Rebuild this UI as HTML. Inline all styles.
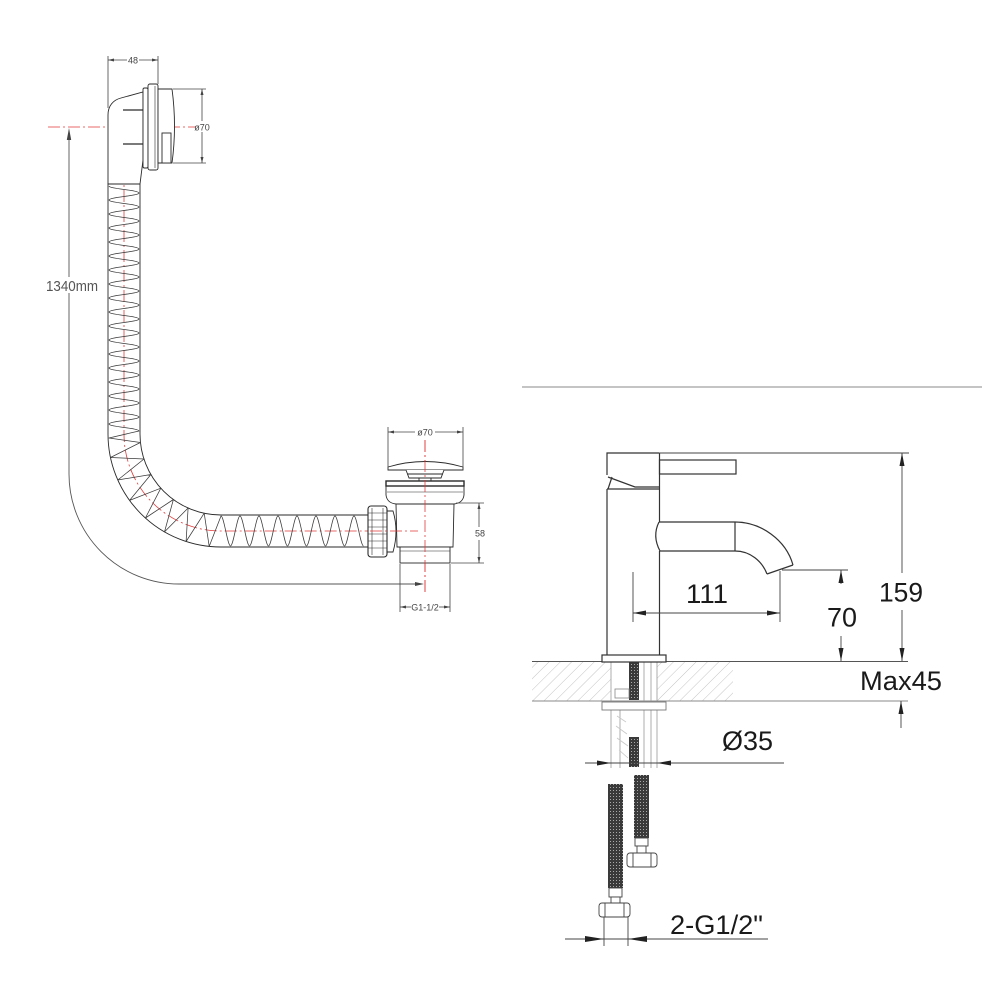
<!DOCTYPE html>
<html><head><meta charset="utf-8">
<style>
html,body{margin:0;padding:0;background:#fff;}
svg{display:block;}
</style></head><body>
<svg width="1000" height="1000" viewBox="0 0 1000 1000" xmlns="http://www.w3.org/2000/svg">
<defs>
<pattern id="hatch" width="8" height="8" patternUnits="userSpaceOnUse" patternTransform="rotate(45)">
<line x1="0" y1="0" x2="0" y2="8" stroke="#c4c4c4" stroke-width="1"/>
</pattern>
<pattern id="braid" width="3" height="3" patternUnits="userSpaceOnUse">
<rect width="3" height="3" fill="#3a3a3a"/>
<rect x="1" y="1" width="1" height="1" fill="#aaa"/>
</pattern>
</defs>

<!-- ============ LEFT DRAWING (bath waste) ============ -->
<g fill="none" stroke="#e23a3a" stroke-width="0.8" stroke-dasharray="12 3 2 3">
  <line x1="48" y1="127" x2="196" y2="127"/>
  <path d="M124,150 L124,434 A97,97 0 0 0 221,531 L418,531"/>
  <line x1="425" y1="440" x2="425" y2="594"/>
</g>

<!-- 1340mm dimension -->
<g fill="none" stroke="#555" stroke-width="0.9">
  <path d="M69,136 L69,474 A110,110 0 0 0 179,584 L421,584"/>
</g>
<polygon points="69,128 66.8,140 71.2,140" fill="#444"/>
<polygon points="424,584 415,582 415,586" fill="#444"/>
<rect x="44" y="277" width="56" height="16" fill="#fff"/>
<text x="46" y="291" font-family="Liberation Sans, Arial, sans-serif" font-size="15" fill="#555" textLength="52" lengthAdjust="spacingAndGlyphs">1340mm</text>

<!-- hose -->
<g fill="none" stroke="#2a2a2a" stroke-width="0.9">
  <path d="M108,183 L108,434 A113,113 0 0 0 221,547 L368,547"/>
  <path d="M140,184 L140,434 A81,81 0 0 0 221,515 L368,515"/>
</g>
<path fill="none" stroke="#3a3a3a" stroke-width="0.75" stroke-linejoin="round" d="M109,186 C109,189 139,190 139,193 C139,196 109,197 109,200 C109,203 139,204 139,207 C139,210 109,211 109,214 C109,217 139,218 139,221 C139,224 109,225 109,228 C109,231 139,232 139,235 C139,238 109,239 109,242 C109,245 139,246 139,249 C139,252 109,253 109,256 C109,259 139,260 139,263 C139,266 109,267 109,270 C109,273 139,274 139,277 C139,280 109,281 109,284 C109,287 139,288 139,291 C139,294 109,295 109,298 C109,301 139,302 139,305 C139,308 109,309 109,312 C109,315 139,316 139,319 C139,322 109,323 109,326 C109,329 139,330 139,333 C139,336 109,337 109,340 C109,343 139,344 139,347 C139,350 109,351 109,354 C109,357 139,358 139,361 C139,364 109,365 109,368 C109,371 139,372 139,375 C139,378 109,379 109,382 C109,385 139,386 139,389 C139,392 109,393 109,396 C109,399 139,400 139,403 C139,406 109,407 109,410 C109,413 139,414 139,417 C139,420 109,421 109,424 C109,427 139,428 139,431 L109,438 L140.4,442.5 L110.5,457.5 L144,459 L117.8,480 L150.9,474.5 L129.6,500.4 L160.8,488.2 L145.4,518 L173.4,499.5 L164.5,531.9 L188.1,508 L186.1,541.5 L204.2,513.2 L209.2,546.4 L221,516 C224,516 227.5,546 230.5,546 C233.5,546 237,516 240,516 C243,516 246.5,546 249.5,546 C252.5,546 256,516 259,516 C262,516 265.5,546 268.5,546 C271.5,546 275,516 278,516 C281,516 284.5,546 287.5,546 C290.5,546 294,516 297,516 C300,516 303.5,546 306.5,546 C309.5,546 313,516 316,516 C319,516 322.5,546 325.5,546 C328.5,546 332,516 335,516 C338,516 341.5,546 344.5,546 C347.5,546 351,516 354,516 C357,516 360.5,546 363.5,546"/>

<!-- overflow head -->
<g fill="#fff" stroke="#2a2a2a" stroke-width="0.9">
  <path d="M108,184 L108,115 C108,106 113,100 121,98 L143,92 L143,160 L140,184 Z"/>
  <rect x="143" y="88" width="5" height="80" rx="1.5"/>
  <rect x="148" y="84" width="10" height="86" rx="2"/>
  <path d="M158,89 L172,89 Q177,126 172,163 L158,163 Z"/>
  <rect x="162" y="133" width="9" height="30"/>
  <line x1="123" y1="110" x2="143" y2="110" stroke-width="1.3"/>
  <line x1="123" y1="144" x2="143" y2="144" stroke-width="1.3"/>
  <line x1="155" y1="86" x2="155" y2="168" stroke-width="0.6"/>
</g>

<!-- 48 / ø70 dimensions -->
<g stroke="#444" stroke-width="0.8" fill="none">
  <line x1="108" y1="56" x2="108" y2="108"/>
  <line x1="158" y1="56" x2="158" y2="84"/>
  <line x1="108" y1="60" x2="127" y2="60"/>
  <line x1="139" y1="60" x2="158" y2="60"/>
  <line x1="173" y1="89" x2="206" y2="89"/>
  <line x1="173" y1="163" x2="206" y2="163"/>
  <line x1="202" y1="89" x2="202" y2="121"/>
  <line x1="202" y1="132" x2="202" y2="163"/>
</g>
<polygon points="108,60 114,58.5 114,61.5" fill="#444"/>
<polygon points="158,60 152,58.5 152,61.5" fill="#444"/>
<polygon points="202,89 200.5,95 203.5,95" fill="#444"/>
<polygon points="202,163 200.5,157 203.5,157" fill="#444"/>
<text x="133" y="63.5" text-anchor="middle" font-family="Liberation Sans, Arial, sans-serif" font-size="9" fill="#444">48</text>
<text x="202" y="130.5" text-anchor="middle" font-family="Liberation Sans, Arial, sans-serif" font-size="9" fill="#444">ø70</text>

<!-- drain -->
<g fill="#fff" stroke="#2a2a2a" stroke-width="0.9">
  <path d="M388,470 L388,467 Q425,456 463,467 L463,470 Z"/>
  <path d="M406,470 L409,478 L441,478 L444,470"/>
  <line x1="407" y1="474" x2="443" y2="474"/>
  <line x1="419" y1="478" x2="419" y2="482"/>
  <line x1="431" y1="478" x2="431" y2="482"/>
  <path d="M386,486 L386,495 Q387,503 396,504 L397,547 L453,547 L454,504 Q463,503 464,495 L464,486 Z"/>
  <line x1="396" y1="504" x2="454" y2="504"/>
  <line x1="387" y1="492" x2="463" y2="492" stroke-width="0.6"/>
  <rect x="386" y="481" width="78" height="5" stroke-width="1.4"/>
  <rect x="400" y="547" width="50" height="16"/>
  <line x1="400" y1="551" x2="450" y2="551" stroke-width="0.6"/>
  <path d="M387,511 L393,511 Q399,531 393,552 L387,552"/>
  <rect x="368" y="506" width="19" height="51" rx="3" stroke-width="1.1"/>
  <line x1="372" y1="508" x2="372" y2="555" stroke-width="0.6"/>
  <line x1="383" y1="508" x2="383" y2="555" stroke-width="0.6"/>
  <line x1="368" y1="513" x2="387" y2="513" stroke-width="0.6"/>
  <line x1="368" y1="520" x2="387" y2="520" stroke-width="0.6"/>
  <line x1="368" y1="527" x2="387" y2="527" stroke-width="0.6"/>
  <line x1="368" y1="534" x2="387" y2="534" stroke-width="0.6"/>
  <line x1="368" y1="541" x2="387" y2="541" stroke-width="0.6"/>
  <line x1="368" y1="548" x2="387" y2="548" stroke-width="0.6"/>
</g>
<g fill="none" stroke="#e23a3a" stroke-width="0.8" stroke-dasharray="12 3 2 3">
  <line x1="425" y1="440" x2="425" y2="594"/>
  <line x1="370" y1="531" x2="418" y2="531"/>
</g>
<g stroke="#444" stroke-width="0.8" fill="none">
  <line x1="388" y1="427" x2="388" y2="467"/>
  <line x1="463" y1="427" x2="463" y2="467"/>
  <line x1="388" y1="432" x2="415" y2="432"/>
  <line x1="435" y1="432" x2="463" y2="432"/>
  <line x1="456" y1="503" x2="484" y2="503"/>
  <line x1="451" y1="563" x2="484" y2="563"/>
  <line x1="479" y1="503" x2="479" y2="527"/>
  <line x1="479" y1="540" x2="479" y2="563"/>
  <line x1="400" y1="564" x2="400" y2="612"/>
  <line x1="450" y1="564" x2="450" y2="612"/>
  <line x1="400" y1="607" x2="411" y2="607"/>
  <line x1="439" y1="607" x2="450" y2="607"/>
</g>
<polygon points="388,432 394,430.5 394,433.5" fill="#444"/>
<polygon points="463,432 457,430.5 457,433.5" fill="#444"/>
<polygon points="479,503 477.5,509 480.5,509" fill="#444"/>
<polygon points="479,563 477.5,557 480.5,557" fill="#444"/>
<polygon points="400,607 406,605.5 406,608.5" fill="#444"/>
<polygon points="450,607 444,605.5 444,608.5" fill="#444"/>
<text x="425" y="435.5" text-anchor="middle" font-family="Liberation Sans, Arial, sans-serif" font-size="9" fill="#444">ø70</text>
<text x="480" y="536.5" text-anchor="middle" font-family="Liberation Sans, Arial, sans-serif" font-size="9" fill="#444">58</text>
<text x="425" y="610.5" text-anchor="middle" font-family="Liberation Sans, Arial, sans-serif" font-size="9" fill="#444">G1-1/2</text>

<!-- ============ RIGHT DRAWING (tap) ============ -->
<line x1="522" y1="387" x2="982" y2="387" stroke="#8a8a8a" stroke-width="1"/>

<rect x="532" y="662" width="79" height="39" fill="url(#hatch)"/>
<rect x="657" y="662" width="76" height="39" fill="url(#hatch)"/>
<line x1="532" y1="661.5" x2="908" y2="661.5" stroke="#555" stroke-width="1"/>
<line x1="532" y1="701" x2="908" y2="701" stroke="#888" stroke-width="0.9"/>

<g stroke="#9a9a9a" stroke-width="0.8" fill="none">
  <line x1="611" y1="662" x2="611" y2="768"/>
  <line x1="657" y1="662" x2="657" y2="768"/>
  <line x1="620" y1="710" x2="620" y2="768"/>
  <line x1="644" y1="662" x2="644" y2="768"/>
  <line x1="651" y1="662" x2="651" y2="768"/>
  <path d="M617,716 L626,722 M616,726 L627,734 M617,738 L628,746 M619,750 L628,758" stroke="#c8c8c8"/>
</g>
<rect x="629" y="662" width="10" height="38" fill="url(#braid)"/>
<rect x="629" y="737" width="10" height="30" fill="url(#braid)"/>
<rect x="615" y="689" width="14" height="9" fill="#fff" stroke="#888" stroke-width="0.8"/>
<rect x="602" y="702" width="64" height="8" fill="#fff" stroke="#777" stroke-width="0.9"/>

<g fill="none" stroke="#333" stroke-width="1.2">
  <rect x="602" y="655" width="64" height="7" fill="#fff"/>
  <path d="M607,475 L607,453 L659,453"/>
  <path d="M608,477 L635,487 L659,487"/>
  <line x1="612" y1="477" x2="608" y2="489"/>
  <line x1="607" y1="489" x2="659" y2="489"/>
  <line x1="607" y1="489" x2="607" y2="655"/>
  <line x1="659.5" y1="453" x2="659.5" y2="522"/>
  <line x1="659.5" y1="551" x2="659.5" y2="655"/>
  <rect x="659.5" y="460" width="76.5" height="14"/>
  <path d="M659,522 Q652,536 660,551"/>
  <line x1="659" y1="522" x2="735" y2="522"/>
  <line x1="660" y1="551" x2="735" y2="551"/>
  <line x1="735" y1="522" x2="735" y2="551"/>
  <path d="M735,522 C761,522 786,540 793,565"/>
  <path d="M735,551 C750,551 762,561 767,574"/>
  <line x1="767" y1="574" x2="793" y2="565"/>
</g>

<g stroke="#444" stroke-width="0.9" fill="none">
  <line x1="659" y1="453" x2="909" y2="453"/>
  <line x1="782" y1="570" x2="848" y2="570"/>
  <line x1="633" y1="572" x2="633" y2="622"/>
  <line x1="780" y1="571" x2="780" y2="622"/>
  <line x1="633" y1="613" x2="780" y2="613"/>
  <line x1="902" y1="453" x2="902" y2="573"/>
  <line x1="902" y1="610" x2="902" y2="661"/>
  <line x1="841" y1="570" x2="841" y2="584"/>
  <line x1="841" y1="636" x2="841" y2="661"/>
  <line x1="901" y1="701" x2="901" y2="728"/>
  <line x1="585" y1="763" x2="784" y2="763"/>
  <line x1="565" y1="939" x2="768" y2="939"/>
</g>
<g fill="#222">
  <polygon points="633,613 646,610.5 646,615.5"/>
  <polygon points="780,613 767,610.5 767,615.5"/>
  <polygon points="902,453 899.5,466 904.5,466"/>
  <polygon points="902,661 899.5,648 904.5,648"/>
  <polygon points="841,570 838.5,583 843.5,583"/>
  <polygon points="841,661 838.5,648 843.5,648"/>
  <polygon points="901,701 898.5,714 903.5,714"/>
  <polygon points="611,763 597,760.5 597,765.5"/>
  <polygon points="657,763 671,760.5 671,765.5"/>
  <polygon points="604,939 585,936 585,942"/>
  <polygon points="628,939 647,936 647,942"/>
</g>

<rect x="634" y="775" width="15" height="63" fill="url(#braid)"/>
<rect x="608" y="784" width="15" height="104" fill="url(#braid)"/>
<g fill="#fff" stroke="#444" stroke-width="0.9">
  <rect x="635" y="838" width="13" height="8"/>
  <rect x="637" y="846" width="9" height="7"/>
  <rect x="627" y="853" width="30" height="14" rx="3"/>
  <line x1="633" y1="853" x2="633" y2="867"/>
  <line x1="651" y1="853" x2="651" y2="867"/>
  <rect x="609" y="888" width="13" height="9"/>
  <rect x="611" y="897" width="9" height="6"/>
  <rect x="599" y="903" width="31" height="14" rx="3"/>
  <line x1="605" y1="903" x2="605" y2="917"/>
  <line x1="624" y1="903" x2="624" y2="917"/>
  <line x1="604" y1="917" x2="604" y2="946"/>
  <line x1="628" y1="917" x2="628" y2="946"/>
</g>

<g font-family="Liberation Sans, Arial, sans-serif" fill="#1a1a1a" font-size="27">
  <text x="686" y="603" textLength="42" lengthAdjust="spacingAndGlyphs">111</text>
  <text x="879" y="601.5" textLength="44" lengthAdjust="spacingAndGlyphs">159</text>
  <text x="827" y="626.5" textLength="30" lengthAdjust="spacingAndGlyphs">70</text>
  <text x="860" y="690" textLength="82" lengthAdjust="spacingAndGlyphs">Max45</text>
  <text x="722" y="750" textLength="51" lengthAdjust="spacingAndGlyphs">Ø35</text>
  <text x="670" y="934" textLength="93" lengthAdjust="spacingAndGlyphs">2-G1/2"</text>
</g>
</svg>
</body></html>
